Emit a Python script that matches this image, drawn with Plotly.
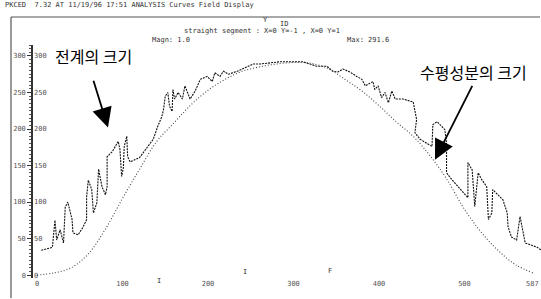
import plotly.graph_objects as go

# ---- data ----
lower_x = [0, 20, 40, 60, 80, 100, 120, 140, 160, 180, 200, 220, 240, 260, 280, 300,
           320, 340, 360, 380, 400, 420, 440, 460, 480, 500, 520, 540, 560, 580]
lower_v = [0, 3, 10, 29, 63, 105, 145, 183, 208, 233, 253, 268, 279, 285, 289, 291,
           290, 283, 268, 252, 232, 210, 190, 163, 130, 90, 58, 33, 14, 3]

upper_x = [5, 18, 21, 23, 27, 31, 33, 36, 41, 42, 48, 54, 58, 58, 60, 64, 66, 70, 72, 76,
           80, 82, 82, 88, 95, 97, 99, 101, 102, 105, 106, 109, 120, 136, 141, 146, 148,
           150, 153, 155, 158, 159, 161, 165, 170, 173, 179, 185, 191, 199, 205, 208, 214,
           218, 224, 234, 253, 261, 284, 311, 327, 339, 346, 352, 358, 366, 374, 380, 384,
           393, 395, 399, 403, 407, 411, 415, 419, 428, 440, 442, 444, 442, 448, 462, 463,
           468, 477, 479, 479, 485, 495, 504, 504, 509, 512, 516, 520, 526, 528, 532, 533,
           545, 550, 551, 555, 561, 565, 568, 571, 585, 590]
upper_v = [34, 38, 75, 48, 62, 44, 93, 100, 76, 58, 55, 66, 76, 107, 130, 117, 85, 99, 145, 121,
           110, 121, 162, 169, 183, 172, 135, 147, 176, 190, 162, 155, 161, 186, 203, 217, 227,
           245, 250, 231, 224, 254, 241, 250, 241, 259, 241, 252, 268, 272, 265, 277, 272,
           279, 275, 279, 289, 289, 292, 292, 286, 286, 279, 278, 282, 278, 272, 268, 259,
           265, 254, 259, 243, 250, 236, 252, 241, 241, 237, 227, 213, 195, 186, 176, 206,
           210, 199, 181, 140, 131, 117, 106, 154, 144, 94, 140, 131, 121, 76, 85, 117,
           103, 85, 66, 52, 48, 80, 62, 44, 38, 34]

x_ticks = [0, 100, 200, 300, 400, 500]
x_tick_text = ["0", "100", "200", "300", "400", "500"]
x_end_text = "587"
y_ticks = [0, 50, 100, 150, 200, 250, 300]
y_tick_text = ["0", "50", "100", "150", "200", "250", "300"]

W, H = 541, 299
L, R, T, B = 33, 0, 45, 21
PW, PH = W - L - R, H - T - B


def px(xp):
    return (xp - L) / PW


def py(yp):
    return (H - B - yp) / PH


fig = go.Figure()
fig.add_trace(go.Scatter(x=upper_x, y=upper_v, mode="lines",
                         line=dict(color="#111", width=1.1, dash="2px,1px"),
                         hoverinfo="skip", showlegend=False))
fig.add_trace(go.Scatter(x=lower_x, y=lower_v, mode="lines", yaxis="y2",
                         line=dict(color="#444", width=1.1, dash="1px,2px", shape="spline"),
                         hoverinfo="skip", showlegend=False))

tick_font = dict(family="DejaVu Sans Mono", size=7, color="#555")
fig.update_layout(
    width=W, height=H, margin=dict(l=L, r=R, t=T, b=B, autoexpand=False),
    paper_bgcolor="white", plot_bgcolor="white",
    xaxis=dict(range=[-4.7, 589.5], tickvals=x_ticks, ticktext=x_tick_text,
               showgrid=False, zeroline=False, showline=False, ticks="",
               tickfont=tick_font, automargin=False),
    yaxis=dict(range=[-4, 315], tickvals=y_ticks, ticktext=y_tick_text,
               showgrid=False, zeroline=False, showline=True, linecolor="#333",
               linewidth=1.5, ticks="outside", ticklen=4, tickcolor="#333",
               minor=dict(ticks="outside", ticklen=2, dtick=5, tickcolor="#555"),
               tickfont=tick_font, automargin=False),
    yaxis2=dict(range=[-4, 315], tickvals=y_ticks, ticktext=y_tick_text,
                overlaying="y", anchor="free", position=0, side="right",
                showgrid=False, zeroline=False, showline=False, ticks="",
                tickfont=tick_font, automargin=False),
)

# frame lines
fig.add_shape(type="line", xref="paper", yref="paper", x0=px(11), x1=px(11),
              y0=py(298), y1=py(17), layer="above", line=dict(color="#555", width=1.2))
fig.add_shape(type="line", xref="paper", yref="paper", x0=px(11), x1=px(540),
              y0=py(17), y1=py(17), layer="above", line=dict(color="#555", width=1.2))

fig.add_annotation(text=x_end_text, x=1.0, xref="paper", yref="paper", y=py(284),
                   xanchor="right", yanchor="middle", showarrow=False, font=tick_font)

hdr = dict(family="DejaVu Sans Mono", size=7, color="#333")
texts = [
    ("PKCED  7.32 AT 11/19/96 17:51 ANALYSIS Curves Field Display", 3, 5, "left"),
    ("Y", 265, 20, "center"),
    ("ID", 284, 24, "center"),
    ("straight segment : X=0 Y=-1 , X=0 Y=1", 182, 31, "left"),
    ("Magn: 1.0", 150, 40, "left"),
    ("Max: 291.6", 345, 40, "left"),
    ("I", 159, 281, "center"),
    ("I", 245, 272, "center"),
    ("F", 330, 271, "center"),
]
for t, xp, yp, al in texts:
    fig.add_annotation(text=t, xref="paper", yref="paper", x=px(xp), y=py(yp),
                       xanchor=al, yanchor="middle", showarrow=False, font=hdr)

kfont = dict(family="Noto Sans CJK KR", size=16, color="black")
fig.add_annotation(text="전계의 크기", xref="paper", yref="paper", x=px(93), y=py(56),
                   xanchor="center", yanchor="middle", showarrow=False, font=kfont)
fig.add_annotation(text="수평성분의 크기", xref="paper", yref="paper", x=px(473), y=py(72),
                   xanchor="center", yanchor="middle", showarrow=False, font=kfont)

# arrows
fig.add_annotation(x=83, y=202, ax=65.5, ay=268, xref="x", yref="y", axref="x", ayref="y",
                   text="", showarrow=True, arrowhead=2, arrowsize=2.2, arrowwidth=1.8,
                   arrowcolor="black")
fig.add_annotation(x=465.5, y=158, ax=510, ay=261, xref="x", yref="y", axref="x", ayref="y",
                   text="", showarrow=True, arrowhead=2, arrowsize=2.2, arrowwidth=1.8,
                   arrowcolor="black")

fig.write_html("out.html", config={"displayModeBar": False},
               post_script="document.body.style.margin='0px';")
